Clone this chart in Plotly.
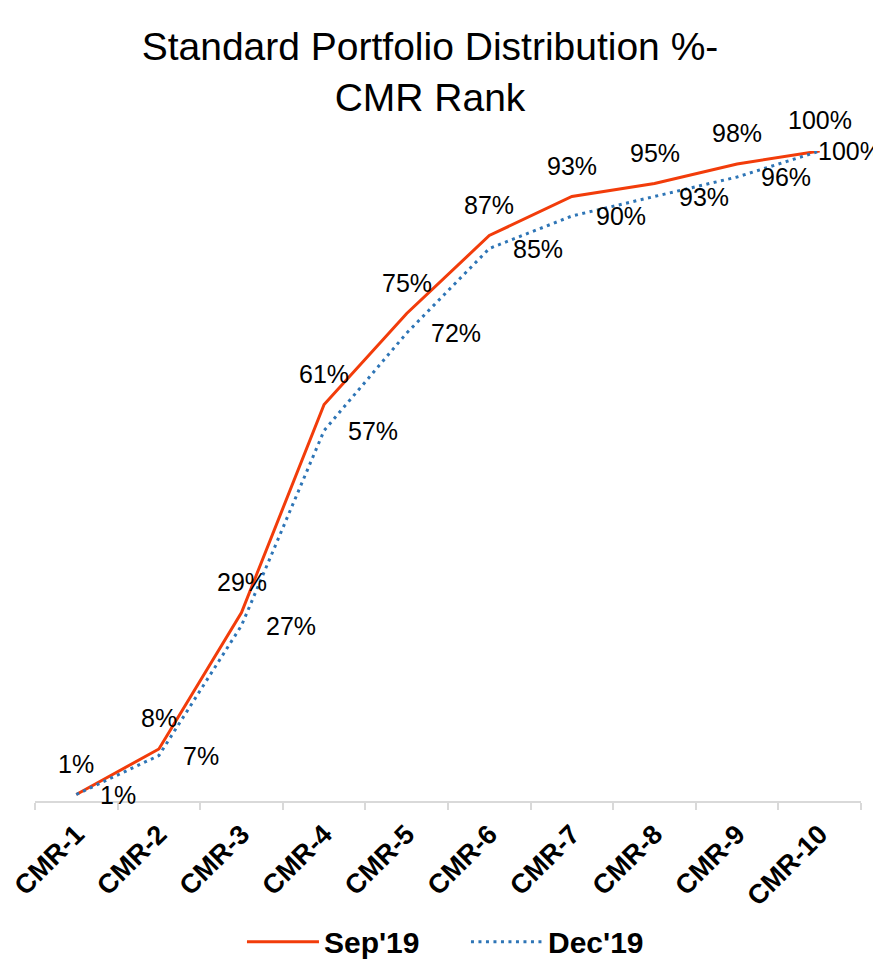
import plotly.graph_objects as go

categories = ["CMR-1", "CMR-2", "CMR-3", "CMR-4", "CMR-5", "CMR-6", "CMR-7", "CMR-8", "CMR-9", "CMR-10"]
sep19 = [1, 8, 29, 61, 75, 87, 93, 95, 98, 100]
dec19 = [1, 7, 27, 57, 72, 85, 90, 93, 96, 100]

FONT = "Liberation Sans, Arial, sans-serif"
SEP_COLOR = "#F23C0A"
DEC_COLOR = "#2E75B6"

fig = go.Figure()
fig.add_trace(go.Scatter(x=categories, y=sep19, name="Sep'19", mode="lines",
                         line=dict(color=SEP_COLOR, width=3)))
fig.add_trace(go.Scatter(x=categories, y=dec19, name="Dec'19", mode="lines",
                         line=dict(color=DEC_COLOR, width=3, dash="3px,4.5px")))

annotations = []
for i, (c, v) in enumerate(zip(categories, sep19)):
    annotations.append(dict(x=c, y=v, xref="x", yref="y", text=f"{v}%", showarrow=False,
                            xanchor="center", yanchor="middle", yshift=31,
                            font=dict(family=FONT, size=25, color="#000000")))
for i, (c, v) in enumerate(zip(categories, dec19)):
    last = i == len(categories) - 1
    annotations.append(dict(x=c, y=v, xref="x", yref="y", text=f"{v}%", showarrow=False,
                            xanchor="left", yanchor="middle", xshift=-4 if last else 22,
                            font=dict(family=FONT, size=25, color="#000000")))

# the page body adds an 8px margin, so the figure is 8px smaller than the window
fig.update_layout(
    template="none",
    width=873, height=961,
    margin=dict(l=27, r=20, t=143, b=168, pad=0, autoexpand=False),
    paper_bgcolor="white", plot_bgcolor="white",
    font=dict(family=FONT, color="#000000"),
    title=dict(text="Standard Portfolio Distribution %-<br>CMR Rank",
               x=0.4834, xref="container", xanchor="center",
               y=0.946, yref="container", yanchor="top",
               font=dict(family=FONT, size=39, color="#000000")),
    showlegend=True,
    legend=dict(orientation="h", xref="container", x=0.268, xanchor="left",
                y=-0.2164, yanchor="middle",
                font=dict(family=FONT, size=30, color="#000000", weight="bold"),
                itemwidth=72, entrywidth=137, entrywidthmode="pixels",
                traceorder="normal", bgcolor="rgba(0,0,0,0)"),
    annotations=annotations,
)
fig.update_xaxes(type="category", range=[-0.5, 9.5], automargin=False,
                 showline=True, linecolor="#D9D9D9", linewidth=1.5,
                 ticks="outside", tickson="boundaries", ticklen=7, tickcolor="#D9D9D9", tickwidth=1.5,
                 tickangle=-45, showgrid=False, zeroline=False, ticklabelstandoff=5,
                 tickfont=dict(family=FONT, size=27, color="#000000", weight="bold"))
fig.update_yaxes(range=[0, 100], visible=False, showgrid=False, zeroline=False, automargin=False)

fig.write_html("out.html")
